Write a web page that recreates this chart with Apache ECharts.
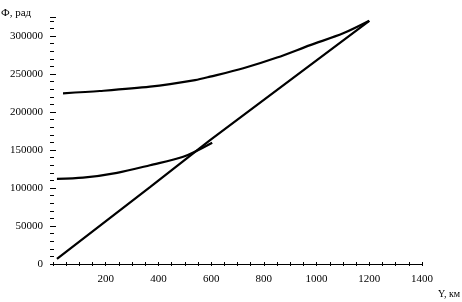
<!DOCTYPE html>
<html>
<head>
<meta charset="utf-8">
<script src="https://cdn.jsdelivr.net/npm/echarts@6/dist/echarts.min.js"></script>
<style>html,body{margin:0;padding:0;background:#fff;}#c{width:462px;height:302px;}</style>
</head>
<body>
<div id="c"></div>
<script>
// Straight line (Y km, Phi rad)
const lineX = [15, 368, 596, 1200];
const lineY = [6600, 101000, 163000, 320000];
// Upper curve
const upperX = [38, 178, 368, 539, 596, 722, 850, 976, 1101, 1200];
const upperY = [224600, 227600, 233300, 242000, 246500, 257500, 271600, 288000, 303500, 320000];
// Lower curve
const lowerX = [15, 114, 243, 368, 494, 604];
const lowerY = [112000, 113600, 120000, 130000, 141000, 159600];

const xTicks = [200, 400, 600, 800, 1000, 1200, 1400];
const yTicks = [0, 50000, 100000, 150000, 200000, 250000, 300000];

const zip = (xs, ys) => xs.map((x, i) => [x, ys[i]]);
const font = 'Liberation Serif';

const chart = echarts.init(document.getElementById('c'), null, {renderer: 'canvas'});
const lineStyle = {color: '#000', width: 2.2};
chart.setOption({
  animation: false,
  backgroundColor: '#fff',
  grid: {left: 53, right: 40, top: 17, bottom: 38},
  xAxis: [{
    type: 'value', min: 0, max: 1400, interval: 200,
    axisLine: {show: true, onZero: false, lineStyle: {color: '#000', width: 1}},
    axisTick: {show: true, inside: true, length: 2, lineStyle: {color: '#000'}},
    minorTick: {show: true, splitNumber: 4, length: 2, lineStyle: {color: '#000'}},
    splitLine: {show: false},
    axisLabel: {showMinLabel: false, color: '#000', fontFamily: font, fontSize: 11, margin: 10,
      formatter: v => xTicks.includes(v) ? String(v) : ''}
  }, {
    type: 'value', position: 'top', min: 0, max: 1400, interval: 50,
    axisLine: {show: false},
    axisTick: {show: true, inside: true, length: 2, lineStyle: {color: '#000'}},
    splitLine: {show: false}, axisLabel: {show: false}
  }],
  yAxis: [{
    type: 'value', min: 0, max: 325000, interval: 50000,
    axisLine: {show: false},
    axisTick: {show: true, inside: true, length: 3, lineStyle: {color: '#000'}},
    minorTick: {show: true, splitNumber: 5, length: 1, lineStyle: {color: '#000'}},
    splitLine: {show: false},
    axisLabel: {showMaxLabel: false, color: '#000', fontFamily: font, fontSize: 11, margin: 10,
      formatter: v => yTicks.includes(v) ? String(v) : ''}
  }, {
    type: 'value', position: 'right', min: 0, max: 325000, interval: 10000,
    axisLine: {show: false},
    axisTick: {show: true, inside: true, length: 3, lineStyle: {color: '#000'}},
    splitLine: {show: false}, axisLabel: {show: false}
  }],
  graphic: [
    {type: 'text', left: 1, top: 8, style: {text: 'Ф, рад', fill: '#000', font: '11px "Liberation Serif"'}},
    {type: 'text', left: 438, top: 289, style: {text: 'Y, км', fill: '#000', font: '10px "Liberation Serif"'}}
  ],
  series: [
    {type: 'line', data: zip(lineX, lineY), showSymbol: false, lineStyle: lineStyle},
    {type: 'line', data: zip(upperX, upperY), showSymbol: false, smooth: 0.3, lineStyle: lineStyle},
    {type: 'line', data: zip(lowerX, lowerY), showSymbol: false, smooth: 0.3, lineStyle: lineStyle}
  ]
});
</script>
</body>
</html>
